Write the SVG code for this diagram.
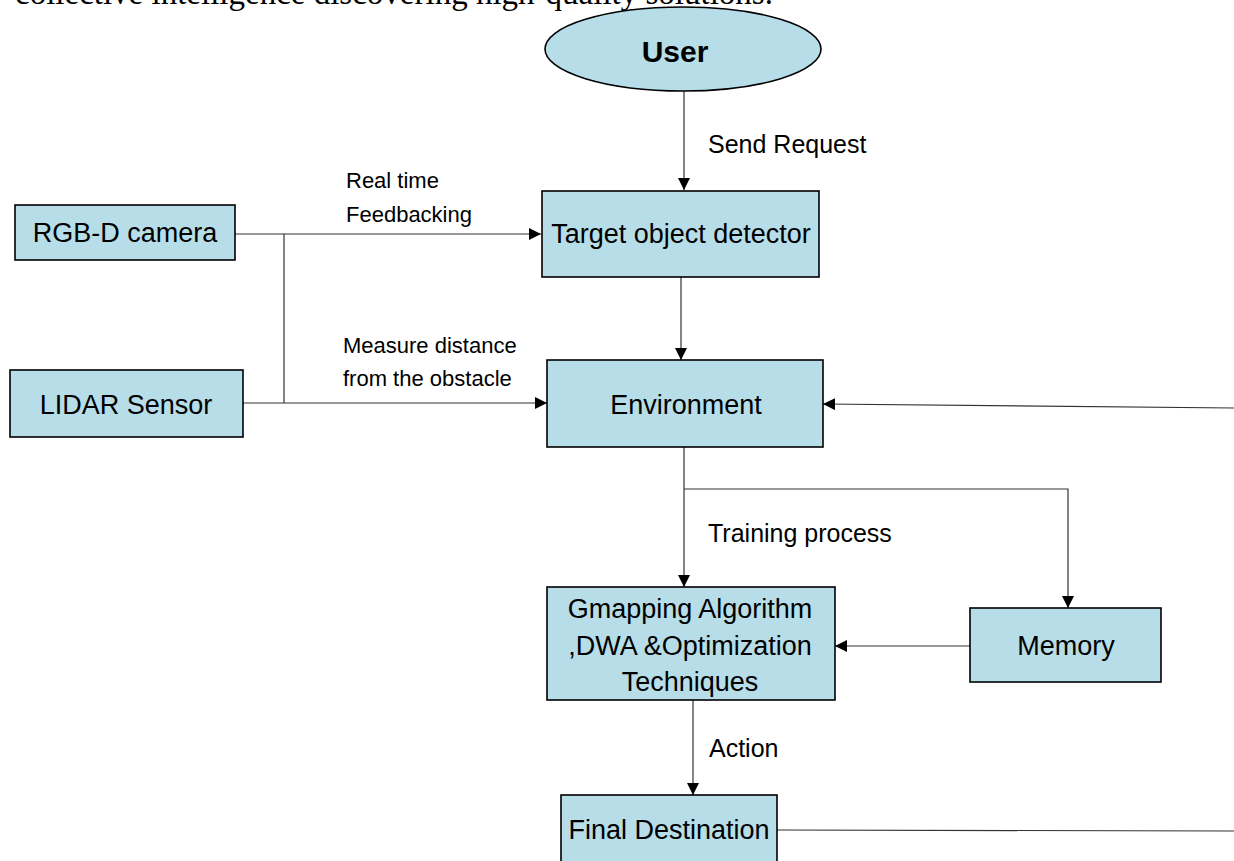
<svg xmlns="http://www.w3.org/2000/svg" width="1234" height="861" viewBox="0 0 1234 861">
<style>
.box{fill:#b7dde8;stroke:#000;stroke-width:1.6}
.t{font-family:"Liberation Sans",Arial,sans-serif;font-size:27px;fill:#000;text-anchor:middle;dominant-baseline:central}
.l{font-family:"Liberation Sans",Arial,sans-serif;font-size:25px;fill:#000}
.s{font-family:"Liberation Sans",Arial,sans-serif;font-size:22px;fill:#000}
.c{fill:none;stroke:#333;stroke-width:1.2}
</style>
<defs>
<marker id="ah" viewBox="0 0 10 10" refX="10" refY="5" markerWidth="12" markerHeight="12" markerUnits="userSpaceOnUse" orient="auto">
<path d="M0,0 L10,5 L0,10 z" fill="#000"/>
</marker>
</defs>
<rect width="1234" height="861" fill="#fff"/>
<text x="15" y="4" font-family="'Liberation Serif','Times New Roman',serif" font-size="33" fill="#000">collective intelligence discovering high-quality solutions.</text>

<g id="connectors">
<line class="c" x1="684" y1="91" x2="684" y2="190" marker-end="url(#ah)"/>
<line class="c" x1="235" y1="234" x2="541" y2="234" marker-end="url(#ah)"/>
<line class="c" x1="284" y1="234" x2="284" y2="403"/>
<line class="c" x1="243" y1="403" x2="547" y2="403" marker-end="url(#ah)"/>
<line class="c" x1="681" y1="277" x2="681" y2="360" marker-end="url(#ah)"/>
<line class="c" x1="1234" y1="408" x2="823" y2="404" marker-end="url(#ah)"/>
<line class="c" x1="684" y1="447" x2="684" y2="587" marker-end="url(#ah)"/>
<polyline class="c" points="684,489 1068,489 1068,608" marker-end="url(#ah)"/>
<line class="c" x1="970" y1="646" x2="835" y2="646" marker-end="url(#ah)"/>
<line class="c" x1="693" y1="700" x2="693" y2="795" marker-end="url(#ah)"/>
<line class="c" x1="777" y1="830" x2="1234" y2="831"/>
<text class="l" x="708" y="153">Send Request</text>
<text class="s" x="346" y="188">Real time</text>
<text class="s" x="346" y="222">Feedbacking</text>
<text class="s" x="343" y="353">Measure distance</text>
<text class="s" x="343" y="386">from the obstacle</text>
<text class="l" x="708" y="542">Training process</text>
<text class="l" x="709" y="757">Action</text>
</g>

<g id="user">
<ellipse cx="683" cy="49" rx="138" ry="42" class="box"/>
<text x="675" y="51" font-family="'Liberation Sans',Arial,sans-serif" font-size="30" font-weight="bold" text-anchor="middle" dominant-baseline="central">User</text>
</g>
<g id="target">
<rect class="box" x="542" y="191" width="277" height="86"/>
<text class="t" x="681" y="234">Target object detector</text>
</g>
<g id="rgbd">
<rect class="box" x="15" y="205" width="220" height="55"/>
<text class="t" x="125" y="233">RGB-D camera</text>
</g>
<g id="lidar">
<rect class="box" x="10" y="370" width="233" height="67"/>
<text class="t" x="126" y="405">LIDAR Sensor</text>
</g>
<g id="environment">
<rect class="box" x="547" y="360" width="276" height="87"/>
<text class="t" x="686" y="405">Environment</text>
</g>
<g id="gmapping">
<rect class="box" x="547" y="587" width="288" height="113"/>
<text class="t" x="690" y="609">Gmapping Algorithm</text>
<text class="t" x="690" y="646">,DWA &amp;Optimization</text>
<text class="t" x="690" y="682">Techniques</text>
</g>
<g id="memory">
<rect class="box" x="970" y="608" width="191" height="74"/>
<text class="t" x="1066" y="646">Memory</text>
</g>
<g id="final">
<rect class="box" x="561" y="795" width="216" height="70"/>
<text class="t" x="669" y="830">Final Destination</text>
</g>
</svg>
